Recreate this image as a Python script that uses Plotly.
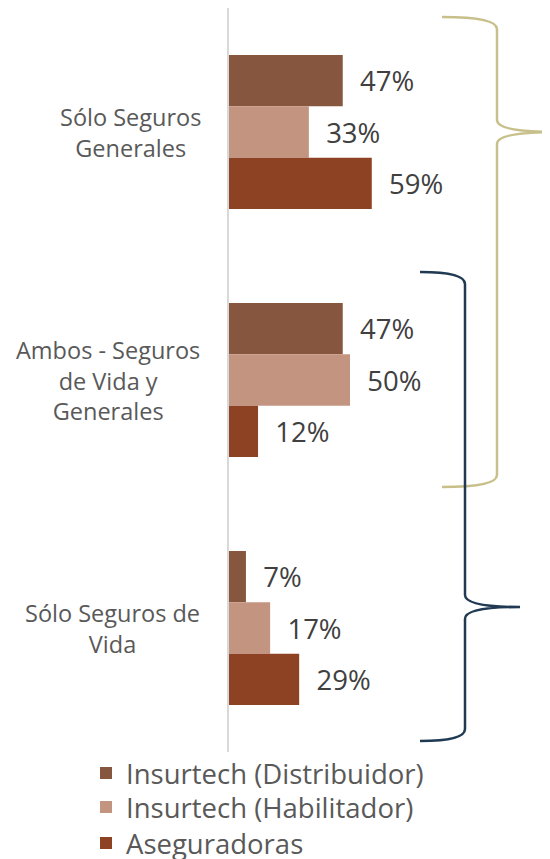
import plotly.graph_objects as go

# data
categories = ["Sólo Seguros Generales", "Ambos - Seguros de Vida y Generales", "Sólo Seguros de Vida"]
cat_labels = ["Sólo Seguros<br>Generales", "Ambos - Seguros<br>de Vida y<br>Generales", "Sólo Seguros de<br>Vida"]
series_names = ["Insurtech (Distribuidor)", "Insurtech (Habilitador)", "Aseguradoras"]
distribuidor = [47, 47, 7]
habilitador = [33, 50, 17]
aseguradoras = [59, 12, 29]
colors = ["#86563F", "#C39480", "#8E4224"]

OFF = 8  # page body margin
W, H = 550 - OFF, 859 - OFF
ML, MR, MT, MB = 221, 0, 0, 107
PW, PH = W - ML - MR, H - MT - MB
FONT = "Open Sans"

# helpers take screen pixel positions and turn them into paper coords
def px(x):
    return (x - OFF - ML) / PW

def py(y):
    return 1 - (y - OFF - MT) / PH

fig = go.Figure()
legend_ids = ["legend", "legend2", "legend3"]
for name, vals, col, lg in zip(series_names, [distribuidor, habilitador, aseguradoras], colors, legend_ids):
    fig.add_trace(go.Bar(
        y=categories, x=vals, name=name, orientation="h",
        marker=dict(color=col, line=dict(width=0)),
        text=[f"\u00a0\u00a0{v}%" for v in vals], textposition="outside",
        textfont=dict(family=FONT, size=27.5, color="#404040"),
        cliponaxis=False, legend=lg,
    ))

# category labels, centred like the original
label_x = [130, 108, 112]
for cat, lab, lx in zip(categories, cat_labels, label_x):
    fig.add_annotation(x=px(lx), xref="paper", y=cat, yref="y", text=lab,
                       showarrow=False, xanchor="center", align="center",
                       font=dict(family=FONT, size=23.5, color="#595959"))

def brace(x_left, x_line, x_tip, y_top, y_mid, y_bot, color):
    r = 12
    path = (f"M {px(x_left)} {py(y_top)} "
            f"Q {px(x_line)} {py(y_top)} {px(x_line)} {py(y_top + r)} "
            f"L {px(x_line)} {py(y_mid - r)} "
            f"Q {px(x_line)} {py(y_mid)} {px(x_tip)} {py(y_mid)} "
            f"Q {px(x_line)} {py(y_mid)} {px(x_line)} {py(y_mid + r)} "
            f"L {px(x_line)} {py(y_bot - r)} "
            f"Q {px(x_line)} {py(y_bot)} {px(x_left)} {py(y_bot)}")
    fig.add_shape(type="path", path=path, xref="paper", yref="paper",
                  line=dict(color=color, width=2.5))

brace(442, 497, 556, 17, 132, 487, "#C8C08A")
brace(420, 465, 520, 272, 607, 741, "#1F3A52")

def legend_box(yc):
    return dict(orientation="v", x=px(86), xanchor="left", y=py(yc), yanchor="middle",
                font=dict(family=FONT, size=27.5, color="#595959"),
                bgcolor="rgba(0,0,0,0)")

fig.update_layout(
    width=W, height=H, margin=dict(l=ML, r=MR, t=MT, b=MB, autoexpand=False),
    paper_bgcolor="white", plot_bgcolor="white",
    barmode="group", bargap=0.38, bargroupgap=0,
    font=dict(family=FONT, color="#595959"),
    showlegend=True,
    legend=legend_box(773), legend2=legend_box(807), legend3=legend_box(843),
    xaxis=dict(range=[0, PW / 2.42], visible=False, fixedrange=True),
    yaxis=dict(autorange="reversed", showticklabels=False, showgrid=False,
               showline=True, linecolor="#D9D9D9", linewidth=2, zeroline=False,
               ticks=""),
)

fig.write_html("out.html")
